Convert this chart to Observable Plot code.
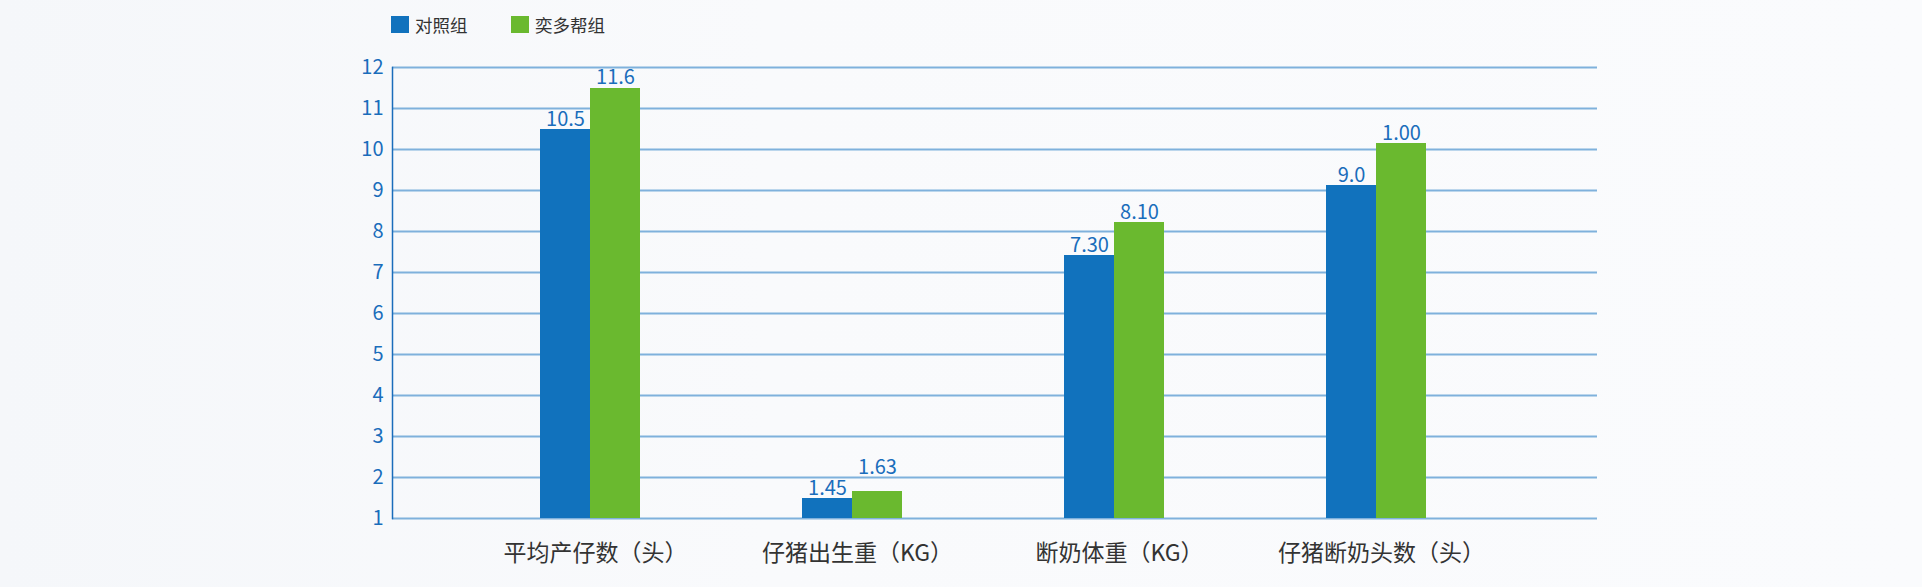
<!DOCTYPE html>
<html>
<head>
<meta charset="utf-8">
<script src="https://cdn.jsdelivr.net/npm/d3@7"></script>
<script src="https://cdn.jsdelivr.net/npm/@observablehq/plot@0.6"></script>
<style>
  html, body { margin: 0; padding: 0; }
  body {
    width: 1922px; height: 587px; overflow: hidden;
    background: linear-gradient(90deg, #f5f7fa 0%, #f9fafc 40%, #fafbfd 100%);
    font-family: "Noto Sans CJK SC", "Noto Sans", sans-serif;
  }
  #legend { height: 40px; position: relative; }
  .item { position: absolute; top: 12px; display: flex; align-items: center; font-size: 17.5px; color: #333; }
  .sw { width: 18px; height: 17px; margin-right: 6px; }
  #chart svg { display: block; }
</style>
</head>
<body>
<div id="legend"></div>
<div id="chart"></div>
<script>
const categories = ["平均产仔数（头）", "仔猪出生重（KG）", "断奶体重（KG）", "仔猪断奶头数（头）"];
const series = ["对照组", "奕多帮组"];
const controlValues = [10.48, 1.48, 7.41, 9.11];
const yiduoValues = [11.5, 1.67, 8.21, 10.14];
const controlLabels = ["10.5", "1.45", "7.30", "9.0"];
const yiduoLabels = ["11.6", "1.63", "8.10", "1.00"];
const yTicks = [1, 2, 3, 4, 5, 6, 7, 8, 9, 10, 11, 12];
const colors = ["#1172bd", "#6ab92f"];

const rowsA = categories.map((c, i) => ({category: c, series: series[0], value: controlValues[i], label: controlLabels[i], i}));
const rowsB = categories.map((c, i) => ({category: c, series: series[1], value: yiduoValues[i], label: yiduoLabels[i], i}));

// legend
const legend = document.getElementById("legend");
const legendX = [391, 511];
series.forEach((s, k) => {
  const it = document.createElement("div");
  it.className = "item";
  it.style.left = legendX[k] + "px";
  it.innerHTML = `<span class="sw" style="background:${colors[k]}"></span><span>${s}</span>`;
  legend.appendChild(it);
});

const blueText = "#1a6dbb";
const chart = Plot.plot({
  width: 1922,
  height: 547,
  marginLeft: 392,
  marginRight: 325,
  marginTop: 27,
  marginBottom: 69,
  style: {background: "transparent", fontFamily: "'Noto Sans CJK SC', 'Noto Sans', sans-serif"},
  x: {domain: categories, range: [457.65, 1508.35], padding: 0, axis: null},
  y: {domain: [1, 12], axis: null},
  marks: [
    Plot.gridY(yTicks, {stroke: "#7fb1dc", strokeOpacity: 1, strokeWidth: 2}),
    Plot.barY(rowsA, {x: "category", y1: 1, y2: "value", fill: colors[0], insetLeft: 81.35, insetRight: 131, shapeRendering: "crispEdges"}),
    Plot.barY(rowsB, {x: "category", y1: 1, y2: "value", fill: colors[1], insetLeft: 131.35, insetRight: 81.35, shapeRendering: "crispEdges"}),
    Plot.frame({anchor: "left", stroke: "#1a6dbb", strokeWidth: 1.5}),
    Plot.text(rowsA, {x: "category", y: "value", text: "label", dx: -25, dy: -4, lineAnchor: "bottom", fontSize: 20, fill: blueText}),
    Plot.text(rowsB.filter(d => d.i !== 1), {x: "category", y: "value", text: "label", dx: 25, dy: -4, lineAnchor: "bottom", fontSize: 20, fill: blueText}),
    Plot.text(rowsB.filter(d => d.i === 1), {x: "category", y: "value", text: "label", dx: 25, dy: -17, lineAnchor: "bottom", fontSize: 20, fill: blueText}),
    Plot.axisY(yTicks, {tickSize: 0, tickPadding: 9, fontSize: 20, fill: blueText, label: null}),
    Plot.axisX({tickSize: 0, tickPadding: 26, dx: 5, fontSize: 23, fill: "#333", label: null})
  ]
});
document.getElementById("chart").appendChild(chart);
</script>
</body>
</html>
